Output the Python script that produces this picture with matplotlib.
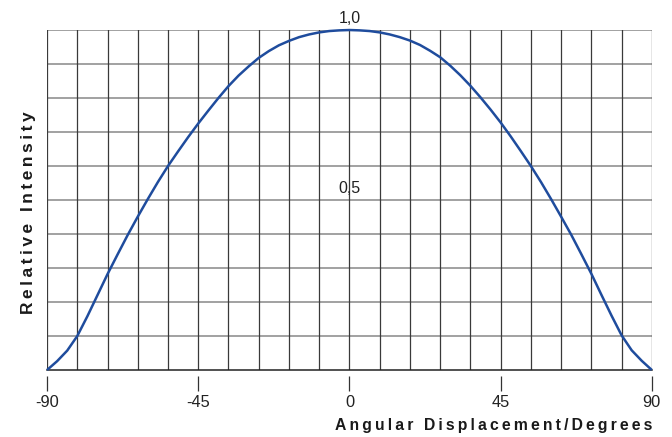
import matplotlib.pyplot as plt
import numpy as np

plt.rcParams['font.family'] = ['Liberation Sans', 'DejaVu Sans']

# curve, every 3 degrees
angle = list(range(-90, 91, 3))
intensity = [0.000, 0.026, 0.057, 0.100, 0.158, 0.220, 0.282, 0.340, 0.397, 0.451,
             0.503, 0.553, 0.600, 0.643, 0.685, 0.725, 0.763, 0.800, 0.835, 0.866,
             0.893, 0.918, 0.938, 0.955, 0.968, 0.979, 0.987, 0.993, 0.997, 0.999,
             1.000,
             0.999, 0.997, 0.993, 0.987, 0.979, 0.969, 0.956, 0.939, 0.920, 0.895,
             0.867, 0.836, 0.802, 0.766, 0.728, 0.687, 0.644, 0.600, 0.553, 0.503,
             0.451, 0.398, 0.341, 0.283, 0.221, 0.160, 0.102, 0.058, 0.027, 0.000]
xticks = [-90, -45, 0, 45, 90]
xtick_labels = ['-90', '-45', '0', '45', '90']
vgrid = np.arange(-90, 91, 9)
hgrid = np.arange(0.1, 1.01, 0.1)


def spaced(s):
    # the axis titles in the reference are letter-spaced
    return '\u2009'.join(s)


fig = plt.figure(figsize=(6.72, 4.37), dpi=100)
ax = fig.add_axes([0.070, 0.1533, 0.900, 0.7780])
ax.set_xlim(-90, 90)
ax.set_ylim(0, 1)

for y in hgrid:
    ax.axhline(y, color='#9a9a9a', lw=1.3, zorder=1)
for x in vgrid:
    ax.axvline(x, color='#3a3a3a', lw=0.9, zorder=2)
ax.axhline(0, color='#222222', lw=1.1, zorder=2, clip_on=False)

ax.plot(angle, intensity, color='#1f4c9d', lw=1.8, zorder=5, clip_on=False,
        solid_capstyle='butt')

for s in ax.spines.values():
    s.set_visible(False)
ax.spines['bottom'].set_position(('outward', 4))

ax.set_xticks(xticks)
ax.set_xticklabels(xtick_labels, fontsize=11.8, color='#222222')
ax.tick_params(axis='x', length=11, width=0.9, color='#333333', pad=3)
ax.set_yticks([])

ax.text(0, 1.012, '1,0', ha='center', va='bottom', fontsize=11.5, color='#222222',
        zorder=6)
ax.text(0, 0.535, '0,5', ha='center', va='center', fontsize=11.5, color='#222222',
        zorder=6)

fig.text(0.971, 0.016, spaced('Angular Displacement/Degrees'), ha='right', va='baseline',
         fontsize=11.3, fontweight='bold', color='#1a1a1a')
fig.text(0.049, 0.514, spaced('Relative Intensity'), ha='center', va='baseline',
         rotation=90, rotation_mode='anchor',
         fontsize=12.5, fontweight='bold', color='#1a1a1a')

fig.savefig('out.png', dpi=100)
